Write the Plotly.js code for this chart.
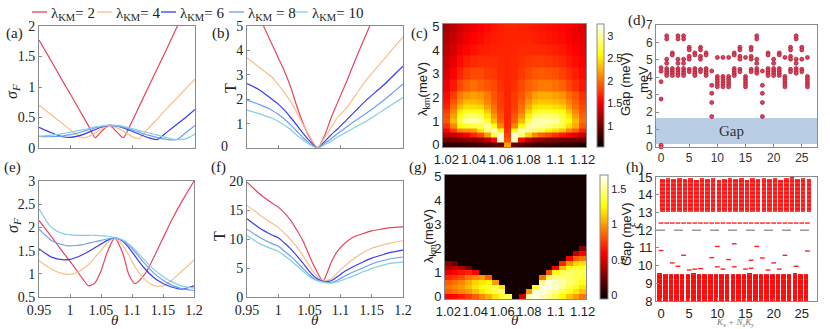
<!DOCTYPE html>
<html>
<head>
<meta charset="utf-8">
<script src="https://cdn.plot.ly/plotly-3.0.1.min.js"></script>
<style>
  html, body { margin: 0; padding: 0; background: #fff; }
  #chart { width: 830px; height: 329px; }
</style>
</head>
<body>
<div id="chart"></div>
<script>
// ---------------- data ----------------
const lambdaKM = [2, 4, 6, 8, 10];
const lineColors = ['#e6455e', '#f8be8a', '#3a3cf0', '#6e9ef2', '#80cfe2'];

// (a), (b): theta grid and curves (one row per lambda_KM)
const thetaTop = [0.95, 0.97, 0.99, 1.0, 1.01, 1.02, 1.03, 1.04, 1.05, 1.063, 1.075, 1.085, 1.095, 1.11, 1.125, 1.14, 1.155, 1.17, 1.185, 1.2];
const sigmaA = [
  [1.77, 1.42, 1.06, 0.89, 0.71, 0.53, 0.35, 0.17, 0.27, 0.37, 0.26, 0.17, 0.35, 0.67, 0.99, 1.31, 1.63, 1.96, 2.28, 2.6],
  [0.70, 0.54, 0.38, 0.30, 0.22, 0.165, 0.19, 0.25, 0.31, 0.37, 0.33, 0.28, 0.21, 0.155, 0.32, 0.48, 0.65, 0.81, 0.97, 1.13],
  [0.34, 0.25, 0.18, 0.175, 0.19, 0.22, 0.26, 0.30, 0.34, 0.37, 0.36, 0.33, 0.29, 0.23, 0.17, 0.14, 0.26, 0.38, 0.50, 0.63],
  [0.19, 0.185, 0.20, 0.22, 0.24, 0.27, 0.30, 0.33, 0.355, 0.37, 0.36, 0.34, 0.31, 0.26, 0.21, 0.17, 0.14, 0.135, 0.25, 0.37],
  [0.19, 0.21, 0.24, 0.26, 0.28, 0.30, 0.32, 0.345, 0.36, 0.375, 0.37, 0.355, 0.33, 0.29, 0.25, 0.21, 0.17, 0.14, 0.15, 0.23]
];
const tempB = [
  [6.3, 5.35, 4.25, 3.7, 3.15, 2.5, 1.7, 1.0, 0.45, 0.0, 0.55, 1.25, 1.85, 2.75, 3.7, 4.6, 5.5, 6.4, 7.3, 8.2],
  [3.7, 3.3, 2.9, 2.6, 2.27, 1.9, 1.45, 0.95, 0.5, 0.0, 0.45, 0.85, 1.25, 1.65, 2.2, 2.75, 3.2, 3.65, 4.1, 4.55],
  [2.64, 2.38, 2.0, 1.8, 1.55, 1.25, 0.93, 0.6, 0.3, 0.0, 0.28, 0.55, 0.78, 1.16, 1.55, 1.93, 2.27, 2.6, 2.98, 3.35],
  [1.96, 1.78, 1.55, 1.38, 1.18, 0.95, 0.68, 0.42, 0.2, 0.0, 0.2, 0.38, 0.58, 0.87, 1.15, 1.4, 1.68, 1.98, 2.3, 2.62],
  [1.55, 1.4, 1.22, 1.1, 0.93, 0.75, 0.52, 0.32, 0.14, 0.0, 0.14, 0.28, 0.45, 0.66, 0.88, 1.08, 1.32, 1.58, 1.82, 2.07]
];

// (e), (f)
const thetaBot = [0.95, 0.97, 0.99, 1.0, 1.01, 1.02, 1.03, 1.04, 1.05, 1.06, 1.072, 1.085, 1.095, 1.105, 1.12, 1.135, 1.15, 1.165, 1.18, 1.2];
const sigmaE = [
  [2.15, 1.8, 1.44, 1.27, 1.09, 0.9, 0.74, 0.8, 1.06, 1.46, 1.77, 1.45, 0.98, 0.79, 0.98, 1.35, 1.77, 2.18, 2.55, 3.0],
  [1.28, 1.1, 1.0, 0.99, 1.02, 1.1, 1.2, 1.35, 1.5, 1.67, 1.77, 1.62, 1.4, 1.15, 0.88, 0.75, 0.74, 0.87, 1.05, 1.3],
  [1.54, 1.36, 1.3, 1.31, 1.35, 1.41, 1.48, 1.56, 1.64, 1.72, 1.78, 1.7, 1.56, 1.38, 1.12, 0.92, 0.79, 0.71, 0.67, 0.74],
  [1.96, 1.72, 1.62, 1.6, 1.61, 1.63, 1.66, 1.69, 1.72, 1.75, 1.77, 1.72, 1.61, 1.47, 1.23, 1.02, 0.86, 0.75, 0.68, 0.64],
  [2.4, 2.0, 1.86, 1.84, 1.83, 1.83, 1.83, 1.83, 1.82, 1.81, 1.78, 1.73, 1.64, 1.52, 1.3, 1.1, 0.94, 0.82, 0.74, 0.69]
];
const tempF = [
  [19.8, 17.8, 16.2, 15.5, 14.5, 13.2, 11.5, 9.6, 7.1, 4.8, 2.8, 6.0, 7.9, 9.1, 10.3, 10.9, 11.4, 11.7, 11.95, 12.1],
  [15.8, 14.2, 12.7, 12.0, 11.0, 9.9, 8.6, 7.1, 5.4, 3.8, 2.8, 3.1, 4.2, 5.2, 6.5, 7.6, 8.4, 8.9, 9.3, 9.7],
  [13.5, 11.9, 10.7, 10.2, 9.3, 8.3, 7.1, 5.8, 4.4, 3.3, 2.7, 2.8, 3.5, 4.3, 5.2, 6.0, 6.7, 7.2, 7.7, 8.1],
  [11.7, 10.3, 9.2, 8.8, 7.9, 7.0, 6.0, 4.9, 3.8, 3.0, 2.6, 2.5, 2.9, 3.5, 4.3, 5.0, 5.7, 6.2, 6.6, 6.9],
  [10.6, 9.2, 8.3, 7.9, 7.1, 6.3, 5.4, 4.4, 3.5, 2.9, 2.55, 2.4, 2.6, 3.0, 3.6, 4.3, 4.9, 5.4, 5.8, 6.0]
];

// (c) gap map
const mapTheta = [1.02, 1.025, 1.03, 1.035, 1.04, 1.045, 1.05, 1.055, 1.06, 1.065, 1.07, 1.075, 1.08, 1.085, 1.09, 1.095, 1.1, 1.105, 1.11, 1.115, 1.12];
const cLambda = [0, 0.2, 0.4, 0.6, 0.8, 1.0, 1.2, 1.4, 1.6, 1.8, 2.0, 2.5, 3.0, 3.5, 4.0, 4.5, 5.0];
const cGap = [
  [0.7, 0.7, 0.72, 0.74, 0.76, 0.78, 0.82, 0.88, 0.95, 2.2, 0.95, 0.88, 0.82, 0.78, 0.76, 0.74, 0.72, 0.7, 0.7, 0.68, 0.66],
  [1.0, 1.02, 1.05, 1.08, 1.12, 1.18, 1.3, 1.6, 3.1, 1.9, 3.1, 1.6, 1.3, 1.18, 1.12, 1.08, 1.05, 1.02, 1.0, 0.98, 0.96],
  [1.3, 1.35, 1.45, 1.55, 1.7, 1.85, 2.2, 2.8, 3.15, 1.8, 3.15, 2.9, 2.4, 2.1, 1.95, 1.85, 1.75, 1.65, 1.55, 1.45, 1.35],
  [1.55, 1.8, 2.1, 2.15, 2.2, 2.5, 2.9, 3.1, 2.6, 1.75, 2.6, 3.1, 3.0, 2.85, 2.75, 2.55, 2.45, 2.35, 2.1, 1.95, 1.7],
  [1.75, 2.1, 2.6, 2.7, 2.75, 2.8, 3.0, 2.6, 2.1, 1.7, 2.1, 2.6, 3.0, 3.05, 3.0, 2.95, 2.85, 2.75, 2.45, 2.25, 1.9],
  [1.9, 2.3, 2.8, 3.0, 3.05, 3.0, 2.7, 2.3, 1.95, 1.7, 1.95, 2.3, 2.8, 3.0, 3.05, 3.05, 3.0, 2.8, 2.6, 2.3, 2.0],
  [1.85, 2.2, 2.65, 2.85, 2.9, 2.8, 2.5, 2.15, 1.9, 1.7, 1.9, 2.15, 2.55, 2.85, 2.9, 2.9, 2.85, 2.75, 2.5, 2.2, 1.95],
  [1.8, 2.1, 2.5, 2.65, 2.65, 2.6, 2.35, 2.05, 1.85, 1.7, 1.85, 2.05, 2.4, 2.6, 2.7, 2.7, 2.65, 2.6, 2.35, 2.1, 1.9],
  [1.7, 2.0, 2.3, 2.45, 2.45, 2.4, 2.2, 2.0, 1.8, 1.7, 1.8, 2.0, 2.25, 2.45, 2.5, 2.5, 2.45, 2.4, 2.2, 2.0, 1.85],
  [1.65, 1.9, 2.15, 2.3, 2.3, 2.25, 2.1, 1.95, 1.8, 1.7, 1.8, 1.95, 2.15, 2.3, 2.35, 2.35, 2.3, 2.25, 2.1, 1.95, 1.8],
  [1.6, 1.8, 2.05, 2.15, 2.2, 2.15, 2.05, 1.9, 1.8, 1.7, 1.8, 1.9, 2.05, 2.2, 2.25, 2.25, 2.2, 2.15, 2.0, 1.9, 1.75],
  [1.5, 1.65, 1.85, 1.95, 2.0, 1.95, 1.9, 1.85, 1.75, 1.7, 1.75, 1.85, 1.95, 2.0, 2.05, 2.05, 2.0, 1.95, 1.85, 1.75, 1.65],
  [1.42, 1.55, 1.7, 1.8, 1.85, 1.85, 1.8, 1.78, 1.72, 1.7, 1.72, 1.78, 1.85, 1.9, 1.92, 1.9, 1.88, 1.82, 1.75, 1.68, 1.6],
  [1.36, 1.47, 1.6, 1.68, 1.72, 1.74, 1.74, 1.74, 1.72, 1.7, 1.72, 1.75, 1.78, 1.8, 1.8, 1.78, 1.76, 1.72, 1.66, 1.6, 1.55],
  [1.3, 1.4, 1.5, 1.58, 1.63, 1.66, 1.68, 1.7, 1.7, 1.7, 1.71, 1.72, 1.72, 1.72, 1.72, 1.7, 1.68, 1.65, 1.6, 1.55, 1.5],
  [1.25, 1.34, 1.43, 1.5, 1.56, 1.6, 1.64, 1.67, 1.68, 1.7, 1.7, 1.7, 1.7, 1.68, 1.66, 1.64, 1.62, 1.6, 1.55, 1.5, 1.46],
  [1.2, 1.28, 1.37, 1.45, 1.5, 1.55, 1.6, 1.64, 1.67, 1.7, 1.7, 1.69, 1.68, 1.66, 1.64, 1.62, 1.6, 1.57, 1.53, 1.48, 1.43]
];

// (g) gap map
const gLambda = [0, 0.2, 0.4, 0.6, 0.8, 1.0, 1.2, 1.4, 1.6, 1.8, 2.0, 2.2, 3.0, 4.0, 5.0];
const gGap = [
  [0.6, 0.62, 0.68, 0.75, 0.85, 0.95, 1.05, 1.2, 1.35, 1.4, 0, 0.5, 1.55, 1.65, 1.6, 1.5, 1.4, 1.25, 1.1, 1.0, 0.9],
  [0.85, 0.9, 0.95, 1.0, 1.1, 1.2, 1.3, 1.4, 1.45, 0, 0, 0, 1.0, 1.6, 1.65, 1.6, 1.5, 1.4, 1.3, 1.2, 1.1],
  [0.9, 0.95, 1.0, 1.1, 1.2, 1.3, 1.35, 1.4, 1.2, 0, 0, 0, 0, 1.35, 1.65, 1.65, 1.6, 1.5, 1.4, 1.3, 1.2],
  [0.85, 0.9, 0.95, 1.05, 1.15, 1.2, 1.25, 1.0, 0, 0, 0, 0, 0, 0, 1.5, 1.65, 1.6, 1.55, 1.45, 1.4, 1.3],
  [0.7, 0.75, 0.8, 0.9, 0.95, 1.0, 0.85, 0, 0, 0, 0, 0, 0, 0, 0.9, 1.4, 1.5, 1.5, 1.45, 1.4, 1.35],
  [0.55, 0.6, 0.65, 0.7, 0.6, 0, 0, 0, 0, 0, 0, 0, 0, 0, 0, 0.8, 1.3, 1.4, 1.45, 1.4, 1.4],
  [0.4, 0.45, 0.4, 0.25, 0, 0, 0, 0, 0, 0, 0, 0, 0, 0, 0, 0, 0.6, 1.1, 1.3, 1.35, 1.35],
  [0.3, 0.2, 0, 0, 0, 0, 0, 0, 0, 0, 0, 0, 0, 0, 0, 0, 0, 0.7, 1.0, 1.15, 1.2],
  [0, 0, 0, 0, 0, 0, 0, 0, 0, 0, 0, 0, 0, 0, 0, 0, 0, 0, 0.6, 0.85, 0.9],
  [0, 0, 0, 0, 0, 0, 0, 0, 0, 0, 0, 0, 0, 0, 0, 0, 0, 0, 0, 0.45, 0.6],
  [0, 0, 0, 0, 0, 0, 0, 0, 0, 0, 0, 0, 0, 0, 0, 0, 0, 0, 0, 0, 0.3],
  [0, 0, 0, 0, 0, 0, 0, 0, 0, 0, 0, 0, 0, 0, 0, 0, 0, 0, 0, 0, 0],
  [0, 0, 0, 0, 0, 0, 0, 0, 0, 0, 0, 0, 0, 0, 0, 0, 0, 0, 0, 0, 0],
  [0, 0, 0, 0, 0, 0, 0, 0, 0, 0, 0, 0, 0, 0, 0, 0, 0, 0, 0, 0, 0],
  [0, 0, 0, 0, 0, 0, 0, 0, 0, 0, 0, 0, 0, 0, 0, 0, 0, 0, 0, 0, 0]
];

// (d) levels per momentum sector K_x + N_x K_y
const kSectors = [0, 1, 2, 3, 4, 5, 6, 7, 8, 9, 10, 11, 12, 13, 14, 15, 16, 17, 18, 19, 20, 21, 22, 23, 24, 25, 26];
const dLevels = [
  [4.55, 4.35, 3.75, 2.75, 0.1, 0.0],
  [6.38, 6.2, 5.04, 4.8, 4.5, 4.36, 4.23, 4.1],
  [5.4, 5.28, 4.5, 4.36, 4.23, 4.1],
  [6.38, 6.2, 5.04, 4.8, 4.5, 4.36, 4.23, 4.1],
  [6.38, 6.2, 5.04, 4.8, 4.5, 4.36, 4.23, 4.1],
  [5.72, 5.57, 5.2, 5.04, 4.46, 4.32],
  [5.4, 5.28, 4.5, 4.36, 4.23, 4.1],
  [5.72, 5.57, 5.2, 5.04, 4.46, 4.32],
  [5.4, 5.28, 4.5, 4.36, 4.23, 4.1],
  [4.36, 3.54, 3.08, 2.55, 1.75],
  [5.14, 4.05, 3.9, 3.75, 3.6, 3.45],
  [5.14, 4.05, 3.9, 3.75, 3.6, 3.45],
  [5.14, 4.05, 3.9, 3.75, 3.6, 3.45],
  [5.4, 5.28, 4.5, 4.36, 4.23, 4.1],
  [5.72, 5.57, 5.2, 5.04, 4.46, 4.32],
  [5.14, 4.05, 3.9, 3.75, 3.6, 3.45],
  [5.72, 5.57, 5.2, 5.04, 4.46, 4.32],
  [6.38, 6.2, 5.04, 4.8, 4.5, 4.36, 4.23],
  [4.36, 3.54, 3.08, 2.55, 1.75],
  [5.4, 5.28, 4.5, 4.36, 4.23, 4.1],
  [5.04, 4.8, 4.5, 4.36, 4.23, 4.1],
  [5.4, 5.28, 4.5, 4.36, 4.23, 4.1],
  [5.14, 4.05, 3.9, 3.75, 3.6, 3.45],
  [5.72, 5.57, 5.2, 5.04, 4.46, 4.32],
  [6.38, 6.2, 5.04, 4.8, 4.5, 4.36, 4.23],
  [5.72, 5.57, 5.04, 4.46, 4.32],
  [5.14, 4.05, 3.9, 3.75, 3.6, 3.45]
];
const gapBand = [0.17, 1.66];

// (h) spectrum: dense bands per sector plus isolated levels
const hLowBottom = [8, 8, 8, 8, 8, 8, 8, 8, 8, 8, 8, 8, 8, 8, 8, 8, 8, 8, 8, 8, 8, 8, 8, 8, 8, 8, 8];
const hLowTop = [9.6, 9.5, 9.55, 9.5, 9.5, 9.55, 9.6, 9.55, 9.5, 9.55, 9.5, 9.55, 9.5, 9.55, 9.5, 9.55, 9.6, 9.55, 9.5, 9.55, 9.5, 9.55, 9.5, 9.5, 9.6, 9.5, 9.55];
const hHighBottom = [13.0, 13.0, 13.0, 13.0, 13.0, 13.0, 13.0, 13.0, 13.0, 13.0, 13.0, 13.0, 13.0, 13.0, 13.0, 13.0, 13.0, 13.0, 13.0, 13.0, 13.0, 13.0, 13.0, 13.0, 13.0, 13.0, 13.0];
const hHighTop = [14.9, 14.95, 14.9, 14.95, 14.9, 14.95, 14.85, 14.95, 14.9, 14.95, 14.85, 14.9, 14.95, 14.9, 14.95, 14.85, 14.95, 14.9, 14.95, 14.9, 14.95, 14.85, 14.95, 15.0, 14.9, 14.95, 14.9];
const hFlatLevel = [12.4, 12.4, 12.4, 12.4, 12.4, 12.4, 12.4, 12.4, 12.4, 12.4, 12.4, 12.4, 12.4, 12.4, 12.4, 12.4, 12.4, 12.4, 12.4, 12.4, 12.4, 12.4, 12.4, 12.4, 12.4, 12.4, 12.4];
const hMarkX = [0, 2, 3, 4, 5, 6, 7, 9, 10, 10, 11, 12, 13, 13, 15, 16, 16, 17, 18, 19, 20, 21, 22, 24, 26];
const hMarkY = [10.85, 10.15, 9.96, 10.58, 9.75, 9.8, 9.83, 10.45, 11.08, 9.93, 9.8, 10.34, 11.23, 9.93, 9.8, 10.3, 9.85, 11.08, 10.43, 9.75, 10.15, 9.8, 10.58, 9.96, 10.82];
const xiCut = 12;

// ---------------- layout helpers ----------------
const W = 830, H = 329;
const fx = p => p / W;
const fy = p => 1 - p / H;
const SERIF = 'Liberation Serif, Times New Roman, serif';
const SANS = 'Liberation Sans, Arial, sans-serif';
const AXC = '#8a8a8a';

const hot = [[0, 'rgb(0,0,0)'], [0.375, 'rgb(255,0,0)'], [0.75, 'rgb(255,255,0)'], [1, 'rgb(255,255,255)']];

function boxAxis(extra) {
  return Object.assign({
    showline: true, mirror: true, linecolor: AXC, linewidth: 1,
    ticks: 'inside', ticklen: 3, tickcolor: AXC,
    showgrid: false, zeroline: false, tickangle: 0,
    tickfont: { family: SERIF, size: 14, color: '#222' }
  }, extra);
}

function curveTraces(xs, rows, xa, ya) {
  return rows.map((ys, i) => ({
    type: 'scatter', mode: 'lines', x: xs, y: ys, xaxis: xa, yaxis: ya,
    line: { color: lineColors[i], width: 1.2, shape: 'spline', smoothing: 0.7 },
    showlegend: false, hoverinfo: 'skip'
  }));
}

const traces = [];
traces.push(...curveTraces(thetaTop, sigmaA, 'x', 'y'));
traces.push(...curveTraces(thetaTop, tempB, 'x2', 'y2'));
traces.push(...curveTraces(thetaBot, sigmaE, 'x5', 'y5'));
traces.push(...curveTraces(thetaBot, tempF, 'x6', 'y6'));

const cbFont = { family: SANS, size: 11, color: '#222' };
traces.push({
  type: 'heatmap', x: mapTheta, y: cLambda, z: cGap, xaxis: 'x3', yaxis: 'y3',
  colorscale: hot, zmin: 0.54, zmax: 3.26, hoverinfo: 'skip',
  colorbar: {
    x: fx(597), xanchor: 'left', xpad: 0, thickness: 7,
    y: fy(147), yanchor: 'bottom', ypad: 0, len: 123 / H, lenmode: 'fraction',
    outlinewidth: 1, outlinecolor: AXC, tickvals: [1, 1.5, 2, 2.5, 3], ticks: '',
    tickfont: cbFont
  }
});
traces.push({
  type: 'heatmap', x: mapTheta, y: gLambda, z: gGap, xaxis: 'x7', yaxis: 'y7',
  colorscale: hot, zmin: -0.05, zmax: 1.7, hoverinfo: 'skip',
  colorbar: {
    x: fx(600), xanchor: 'left', xpad: 0, thickness: 8,
    y: fy(299), yanchor: 'bottom', ypad: 0, len: 124 / H, lenmode: 'fraction',
    outlinewidth: 1, outlinecolor: AXC, tickvals: [0, 0.5, 1, 1.5], ticks: '',
    tickfont: cbFont
  }
});

// (d) scatter of levels
const dX = [], dY = [];
dLevels.forEach((col, i) => col.forEach(v => { dX.push(kSectors[i]); dY.push(v); }));
traces.push({
  type: 'scatter', mode: 'markers', x: dX, y: dY, xaxis: 'x4', yaxis: 'y4',
  marker: { size: 4, color: '#e0405a', line: { color: '#9c1a30', width: 0.7 } },
  cliponaxis: false, showlegend: false, hoverinfo: 'skip'
});

// (h) bands as bars, isolated levels as dashes
traces.push({
  type: 'bar', x: kSectors, base: hLowBottom, y: hLowTop.map((t, i) => t - hLowBottom[i]),
  xaxis: 'x8', yaxis: 'y8', width: 0.8,
  marker: { color: '#ff0a0a', line: { width: 0 },
    pattern: { shape: '-', fillmode: 'overlay', fgcolor: 'rgba(255,150,150,0.6)', size: 5, solidity: 0.12 } },
  showlegend: false, hoverinfo: 'skip'
});
traces.push({
  type: 'bar', x: kSectors, base: hHighBottom, y: hHighTop.map((t, i) => t - hHighBottom[i]),
  xaxis: 'x8', yaxis: 'y8', width: 0.8,
  marker: { color: '#ff1414', line: { width: 0 },
    pattern: { shape: '-', fillmode: 'overlay', fgcolor: 'rgba(255,225,225,0.85)', size: 4, solidity: 0.2 } },
  showlegend: false, hoverinfo: 'skip'
});
traces.push({
  type: 'scatter', mode: 'markers', x: kSectors.concat(hMarkX), y: hFlatLevel.concat(hMarkY),
  xaxis: 'x8', yaxis: 'y8',
  marker: { symbol: 'line-ew', size: 3.4, line: { color: '#ff2020', width: 1.4 } },
  showlegend: false, hoverinfo: 'skip'
});

// ---------------- layout ----------------
const heatTick = { family: SANS, size: 13, color: '#222' };
const smallSans = { family: SANS, size: 12, color: '#333' };

const layout = {
  width: W, height: H,
  margin: { l: 0, r: 0, t: 0, b: 0 },
  paper_bgcolor: '#fff', plot_bgcolor: '#fff',
  font: { family: SERIF, size: 14, color: '#222' },
  showlegend: false, bargap: 0,

  // (a)
  xaxis: boxAxis({ domain: [fx(39), fx(195)], range: [0.95, 1.2], anchor: 'y', showticklabels: false }),
  yaxis: boxAxis({ domain: [fy(148), fy(26)], range: [0, 2], anchor: 'x', tickvals: [0, 0.5, 1, 1.5, 2] }),
  // (b)
  xaxis2: boxAxis({ domain: [fx(247), fx(403)], range: [0.95, 1.2], anchor: 'y2', showticklabels: false }),
  yaxis2: boxAxis({ domain: [fy(148), fy(26)], range: [0, 5], anchor: 'x2', tickvals: [1, 2, 3, 4, 5] }),
  // (c)
  xaxis3: boxAxis({ domain: [fx(443), fx(586)], range: [1.0175, 1.1225], anchor: 'y3', ticks: '',
    tickvals: [1.02, 1.04, 1.06, 1.08, 1.1, 1.12], tickfont: heatTick }),
  yaxis3: boxAxis({ domain: [fy(147), fy(24)], range: [-0.1, 5.1], anchor: 'x3', ticks: '',
    tickvals: [0, 1, 2, 3, 4, 5], tickfont: heatTick }),
  // (d)
  xaxis4: boxAxis({ domain: [fx(656), fx(817)], range: [-0.9, 27.7], anchor: 'y4',
    tickvals: [0, 5, 10, 15, 20, 25], tickfont: smallSans }),
  yaxis4: boxAxis({ domain: [fy(147), fy(25)], range: [0, 7], anchor: 'x4',
    tickvals: [0, 1, 2, 3, 4, 5, 6, 7], tickfont: smallSans }),
  // (e)
  xaxis5: boxAxis({ domain: [fx(39), fx(194)], range: [0.95, 1.2], anchor: 'y5',
    tickvals: [0.95, 1, 1.05, 1.1, 1.15, 1.2] }),
  yaxis5: boxAxis({ domain: [fy(297), fy(181)], range: [0.5, 3], anchor: 'x5',
    tickvals: [0.5, 1, 1.5, 2, 2.5, 3] }),
  // (f)
  xaxis6: boxAxis({ domain: [fx(247), fx(403)], range: [0.95, 1.2], anchor: 'y6',
    tickvals: [0.95, 1, 1.05, 1.1, 1.15, 1.2] }),
  yaxis6: boxAxis({ domain: [fy(297), fy(181)], range: [0, 20], anchor: 'x6',
    tickvals: [0, 5, 10, 15, 20] }),
  // (g)
  xaxis7: boxAxis({ domain: [fx(445), fx(586)], range: [1.0175, 1.1225], anchor: 'y7', ticks: '',
    tickvals: [1.02, 1.04, 1.06, 1.08, 1.1, 1.12], tickfont: heatTick }),
  yaxis7: boxAxis({ domain: [fy(299), fy(175)], range: [-0.1, 5.08], anchor: 'x7', ticks: '',
    tickvals: [0, 1, 2, 3, 4, 5], tickfont: heatTick }),
  // (h)
  xaxis8: boxAxis({ domain: [fx(656), fx(817)], range: [-0.9, 27.7], anchor: 'y8',
    tickvals: [0, 5, 10, 15, 20, 25], tickfont: { family: SANS, size: 13, color: '#222' } }),
  yaxis8: boxAxis({ domain: [fy(301), fy(177)], range: [8, 15], anchor: 'x8',
    tickvals: [8, 9, 10, 11, 12, 13, 14, 15], tickfont: { family: SANS, size: 13, color: '#222' } }),

  shapes: [
    { type: 'rect', xref: 'x4 domain', yref: 'y4', x0: 0, x1: 1, y0: gapBand[0], y1: gapBand[1],
      fillcolor: '#b9cde5', line: { width: 0 }, layer: 'below' },
    { type: 'line', xref: 'x8 domain', yref: 'y8', x0: 0, x1: 1, y0: xiCut, y1: xiCut,
      line: { color: '#999', width: 1.5, dash: 'dash' }, layer: 'above' }
  ],
  annotations: [
    { xref: 'x4', yref: 'y4', x: 12.5, y: 0.9, text: 'Gap', showarrow: false,
      xanchor: 'center', yanchor: 'middle', font: { family: SERIF, size: 15, color: '#333' } }
  ]
};

// free text placed at the spots the figure uses (pixel centres): [text, x, y, angle, font]
const serifTitle = { family: SERIF, size: 16, color: '#222' };
const thetaFont = { family: SERIF, size: 15, color: '#222' };
const sansTitle = { family: SANS, size: 13, color: '#222' };
const tagFont = { family: SERIF, size: 15, color: '#222' };
const freeTexts = [
  ['<i>σ<sub>F</sub></i>', 13, 92, -90, serifTitle],
  ['T', 230, 88, -90, serifTitle],
  ['0', 224, 146, 0, { family: SERIF, size: 14, color: '#222' }],
  ['λ<sub>km</sub>(meV)', 423, 89, -90, sansTitle],
  ['Gap (meV)', 626, 84, -90, sansTitle],
  ['meV', 643, 80, -90, sansTitle],
  ['<i>σ<sub>F</sub></i>', 13, 226, -90, serifTitle],
  ['T', 219, 236, -90, serifTitle],
  ['λ<sub>km</sub>(meV)', 429, 236, -90, sansTitle],
  ['Gap (meV)', 626, 234, -90, sansTitle],
  ['<i>ξ</i>', 635, 226, -90, { family: SERIF, size: 15, color: '#222' }],
  ['<i>θ</i>', 115, 320, 0, thetaFont],
  ['<i>θ</i>', 315, 320, 0, thetaFont],
  ['<i>θ</i>', 515, 320, 0, thetaFont],
  ['<i>K<sub>x</sub> + N<sub>x</sub>K<sub>y</sub></i>', 735, 322.5, 0, { family: SERIF, size: 9, color: '#777' }],
  ['(a)', 14, 34, 0, tagFont], ['(b)', 221, 34, 0, tagFont], ['(c)', 419, 34, 0, tagFont],
  ['(d)', 637, 21, 0, tagFont], ['(e)', 12, 167, 0, tagFont], ['(f)', 218, 167, 0, tagFont],
  ['(g)', 418, 167, 0, tagFont], ['(h)', 635, 167, 0, tagFont]
];
freeTexts.forEach(([t, x, y, a, f]) => layout.annotations.push({
  xref: 'paper', yref: 'paper', x: fx(x), y: fy(y), xanchor: 'center', yanchor: 'middle',
  text: t, textangle: a, showarrow: false, font: f
}));

// legend row built by hand (short line samples)
const legLineX = [32, 97, 161, 229, 293];
const legSep = ['= ', '= ', '= ', ' = ', '= '];
lambdaKM.forEach((lam, i) => {
  layout.shapes.push({ type: 'line', xref: 'paper', yref: 'paper',
    x0: fx(legLineX[i]), x1: fx(legLineX[i] + 15), y0: fy(12), y1: fy(12),
    line: { color: lineColors[i], width: 1.3 } });
  layout.annotations.push({ xref: 'paper', yref: 'paper', x: fx(legLineX[i] + 17), y: fy(14),
    xanchor: 'left', yanchor: 'middle', text: 'λ<sub>KM</sub>' + legSep[i] + lam, showarrow: false,
    font: { family: SERIF, size: 15, color: '#222' } });
});

Plotly.newPlot('chart', traces, layout, { displayModeBar: false, responsive: false });
</script>
</body>
</html>
